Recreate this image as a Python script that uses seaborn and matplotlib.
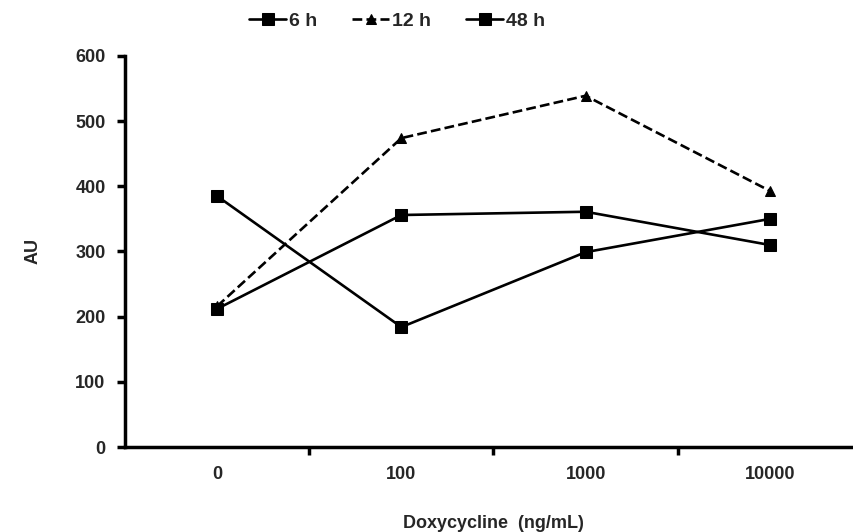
import matplotlib
matplotlib.use("Agg")
import matplotlib.pyplot as plt
import seaborn as sns
import pandas as pd

categories = ["0", "100", "1000", "10000"]
series_names = ["6 h", "12 h", "48 h"]
values_6h = [385, 184, 299, 350]
values_12h = [216, 474, 539, 393]
values_48h = [212, 356, 361, 310]
y_ticks = [0, 100, 200, 300, 400, 500, 600]

sns.set_style("white")
plt.rcParams['font.family'] = ['Liberation Sans', 'DejaVu Sans']
plt.rcParams['font.weight'] = 'bold'
plt.rcParams['xtick.bottom'] = True
plt.rcParams['ytick.left'] = True

fig = plt.figure(figsize=(8.54, 5.32), dpi=100)
ax = fig.add_axes([125/854, 85/532, (862-125)/854, (447-56)/532])

pos = list(range(len(categories)))
styles = {
    "6 h": dict(vals=values_6h, marker='s', ls='-', ms=8.5),
    "12 h": dict(vals=values_12h, marker='^', ls='--', ms=6.5),
    "48 h": dict(vals=values_48h, marker='s', ls='-', ms=8.5),
}
handles = []
for name in series_names:
    st = styles[name]
    df = pd.DataFrame({"x": pos, "y": st["vals"]})
    sns.lineplot(data=df, x="x", y="y", ax=ax, color='black', linewidth=1.9,
                 linestyle=st["ls"], marker=st["marker"], markersize=st["ms"],
                 markeredgecolor='black', markerfacecolor='black')
    handles.append(ax.lines[-1])

ax.set_xlim(-0.5, 3.5)
ax.set_ylim(0, 600)
ax.set_yticks(y_ticks)
ax.set_yticklabels([str(v) for v in y_ticks], fontsize=13, fontweight='bold')
ax.set_xticks(pos)
ax.set_xticklabels(categories, fontsize=13, fontweight='bold')
ax.set_xticks([0.5, 1.5, 2.5], minor=True)
ax.tick_params(axis='x', which='major', bottom=False, length=0, pad=14)
ax.tick_params(axis='x', which='minor', bottom=True, length=6, width=2.5, direction='out', color='black')
ax.tick_params(axis='y', which='major', left=True, length=6, width=2.5, direction='out', color='black', pad=8)
for side in ['top', 'right']:
    ax.spines[side].set_visible(False)
for side in ['left', 'bottom']:
    ax.spines[side].set_linewidth(2.5)
    ax.spines[side].set_color('black')
ax.set_xlabel("Doxycycline  (ng/mL)", fontsize=13, fontweight='bold', labelpad=23)
ax.set_ylabel("AU", fontsize=13, fontweight='bold', labelpad=24)

fig.legend(handles, series_names, loc='upper center', bbox_to_anchor=(0.465, 1.01),
           ncol=3, frameon=False, handlelength=1.9, handletextpad=0.15,
           columnspacing=1.8, markerscale=1.0, prop={'weight': 'bold', 'size': 14})

fig.savefig("out.png", dpi=100)
